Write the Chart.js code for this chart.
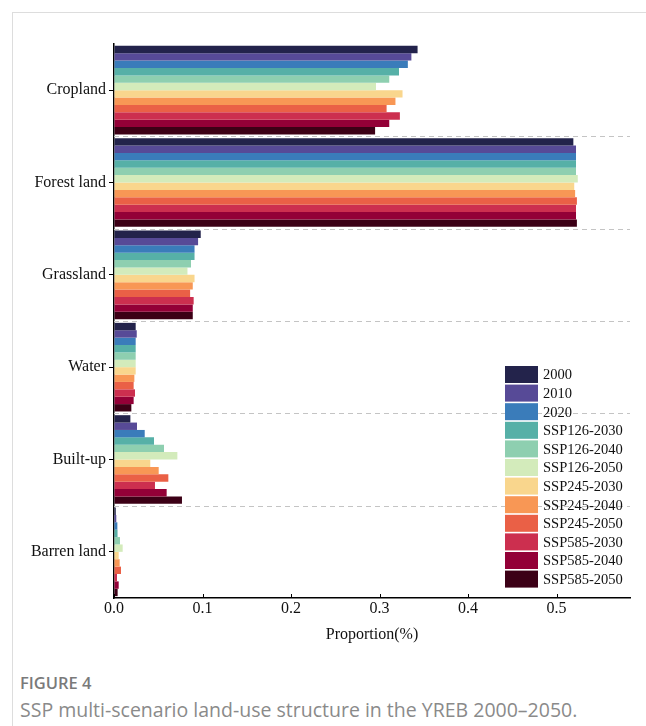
<!DOCTYPE html>
<html>
<head>
<meta charset="utf-8">
<script src="https://cdn.jsdelivr.net/npm/chart.js@4/dist/chart.umd.min.js"></script>
<style>
  body { margin: 0; background: #fff; }
  #wrap { position: relative; width: 646px; height: 726px; overflow: hidden; }
  #frame { position: absolute; left: 12px; top: 12px; width: 700px; height: 800px;
           border-left: 1px solid #ddd; border-top: 1px solid #ddd; }
  #chartBox { position: absolute; left: 0; top: 0; width: 646px; height: 660px; }
  #figLabel { position: absolute; left: 20px; top: 671px; font-family: "Open Sans", sans-serif;
              font-size: 16.5px; font-weight: 600; color: #7a7a7a; }
  #caption { position: absolute; left: 20px; top: 696px; font-family: "Open Sans", sans-serif;
             font-size: 19.5px; color: #8a8a8a; }
</style>
</head>
<body>
<div id="wrap">
  <div id="frame"></div>
  <div id="chartBox"><canvas id="landChart"></canvas></div>
  <div id="figLabel">FIGURE 4</div>
  <div id="caption">SSP multi-scenario land-use structure in the YREB 2000–2050.</div>
</div>
<script>
// Land-use categories (y axis)
const categories = ["Cropland", "Forest land", "Grassland", "Water", "Built-up", "Barren land"];

// Scenario / year labels (one series each)
const seriesNames = ["2000", "2010", "2020", "SSP126-2030", "SSP126-2040", "SSP126-2050",
    "SSP245-2030", "SSP245-2040", "SSP245-2050", "SSP585-2030", "SSP585-2040", "SSP585-2050"];

const seriesColors = ["#23234b", "#574a97", "#3a7cba", "#56b0a7", "#8ecfb0", "#d3ebbb",
    "#f9d68d", "#f89755", "#ea6046", "#cc2f4f", "#930037", "#3c0016"];

// Values per series, in category order
const v2000 = [0.343, 0.519, 0.098, 0.0245, 0.0185, 0.002];
const v2010 = [0.336, 0.522, 0.095, 0.0257, 0.026, 0.0026];
const v2020 = [0.332, 0.522, 0.091, 0.0245, 0.0347, 0.0038];
const ssp126_2030 = [0.322, 0.522, 0.091, 0.0245, 0.0452, 0.004];
const ssp126_2040 = [0.311, 0.522, 0.087, 0.0245, 0.0565, 0.0068];
const ssp126_2050 = [0.296, 0.524, 0.083, 0.0245, 0.0716, 0.0098];
const ssp245_2030 = [0.326, 0.520, 0.091, 0.0245, 0.041, 0.0053];
const ssp245_2040 = [0.318, 0.521, 0.089, 0.023, 0.0505, 0.0064];
const ssp245_2050 = [0.308, 0.523, 0.086, 0.0222, 0.0614, 0.0079];
const ssp585_2030 = [0.323, 0.522, 0.090, 0.0237, 0.0463, 0.0034];
const ssp585_2040 = [0.311, 0.522, 0.089, 0.0222, 0.0595, 0.0053];
const ssp585_2050 = [0.295, 0.523, 0.089, 0.0196, 0.0768, 0.0041];

const seriesValues = [v2000, v2010, v2020, ssp126_2030, ssp126_2040, ssp126_2050,
    ssp245_2030, ssp245_2040, ssp245_2050, ssp585_2030, ssp585_2040, ssp585_2050];

// x tick labels
const xTicks = [0.0, 0.1, 0.2, 0.3, 0.4, 0.5];

const serif = "'Liberation Serif', 'Times New Roman', serif";

// Dashed separators between categories + inward ticks on x axis + legend
const decorPlugin = {
    id: "decor",
    beforeDatasetsDraw(chart) {
        const ctx = chart.ctx;
        const y = chart.scales.y;
        const area = chart.chartArea;
        ctx.save();
        ctx.strokeStyle = "#c4c4c4";
        ctx.lineWidth = 1;
        ctx.setLineDash([5, 4]);
        for (let i = 0; i < categories.length - 1; i++) {
            const py = Math.round((y.getPixelForValue(i) + y.getPixelForValue(i + 1)) / 2) + 0.5;
            ctx.beginPath();
            ctx.moveTo(area.left, py);
            ctx.lineTo(area.right, py);
            ctx.stroke();
        }
        ctx.restore();
    },
    afterDraw(chart) {
        const ctx = chart.ctx;
        const x = chart.scales.x;
        const area = chart.chartArea;
        ctx.save();
        ctx.strokeStyle = "#000";
        ctx.lineWidth = 1;
        xTicks.forEach(t => {
            const px = Math.round(x.getPixelForValue(t)) + 0.5;
            ctx.beginPath();
            ctx.moveTo(px, area.bottom);
            ctx.lineTo(px, area.bottom - 4);
            ctx.stroke();
        });

        // legend inside the plot, lower right
        const left = 505, top = 366, step = 18.6;
        ctx.font = "14.5px " + serif;
        ctx.textBaseline = "middle";
        chart.data.datasets.forEach((ds, i) => {
            const ty = top + i * step;
            ctx.fillStyle = ds.backgroundColor;
            ctx.fillRect(left, ty, 33, step - 1.6);
            ctx.fillStyle = "#111";
            ctx.fillText(ds.label, left + 38, ty + (step - 1.6) / 2 + 1);
        });
        ctx.restore();
    }
};

new Chart(document.getElementById("landChart"), {
    type: "bar",
    data: {
        labels: categories,
        datasets: seriesNames.map((name, i) => ({
            label: name,
            data: seriesValues[i],
            backgroundColor: seriesColors[i],
            borderWidth: 0,
            barPercentage: 1,
            categoryPercentage: 0.96
        }))
    },
    options: {
        indexAxis: "y",
        responsive: true,
        maintainAspectRatio: false,
        animation: false,
        layout: { padding: { left: 0, top: 44, right: 16, bottom: 16 } },
        plugins: {
            legend: { display: false },
            tooltip: { enabled: false }
        },
        scales: {
            x: {
                min: 0,
                max: 0.583,
                afterBuildTicks(scale) {
                    scale.ticks = xTicks.map(v => ({ value: v }));
                },
                afterFit(scale) { scale.height = 46; },
                grid: { drawOnChartArea: false, drawTicks: false },
                border: { display: true, color: "#000", width: 1.5 },
                ticks: {
                    padding: 1,
                    color: "#111",
                    font: { family: serif, size: 16 },
                    callback: v => Number(v).toFixed(1)
                },
                title: {
                    display: true,
                    text: "Proportion(%)",
                    color: "#111",
                    font: { family: serif, size: 16 },
                    padding: { top: 0, bottom: 0 }
                }
            },
            y: {
                afterFit(scale) { scale.width = 114; },
                grid: { offset: false, drawOnChartArea: false, drawTicks: true, tickLength: 5, tickColor: "#000" },
                border: { display: true, color: "#000", width: 1.5 },
                ticks: {
                    padding: 3,
                    color: "#111",
                    font: { family: serif, size: 16 }
                }
            }
        }
    },
    plugins: [decorPlugin]
});
</script>
</body>
</html>
